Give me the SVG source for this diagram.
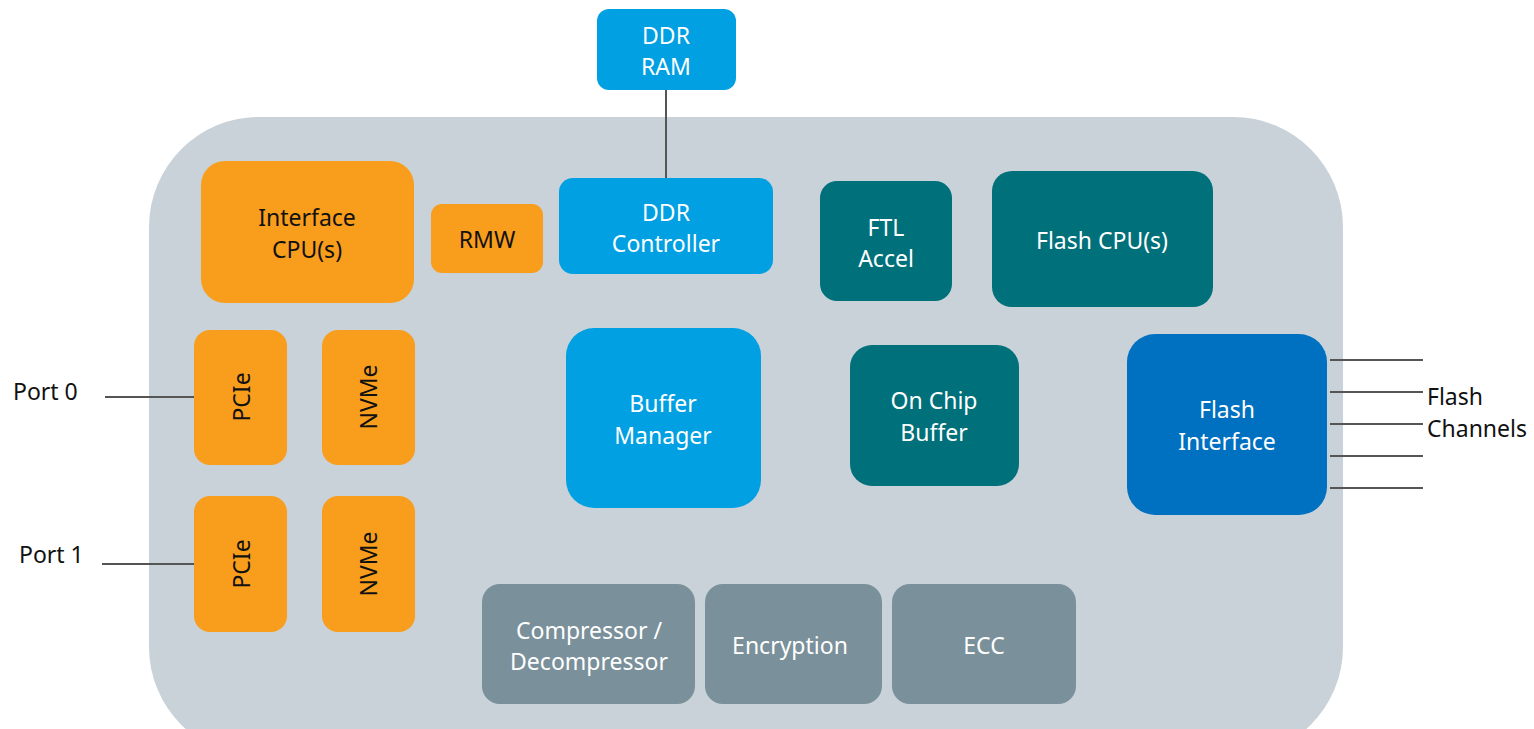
<svg xmlns="http://www.w3.org/2000/svg" width="1534" height="729" viewBox="0 0 1534 729">
  <style>
    text { font-family: "Noto Sans", "Open Sans", "DejaVu Sans", sans-serif; font-size: 23px; text-anchor: middle; dominant-baseline: central; }
    .dark { fill: #111111; }
    .light { fill: #ffffff; }
    .lbl { fill: #111111; text-anchor: start; }
    .orange { fill: #F99D1C; }
    .blue { fill: #00A0E3; }
    .navy { fill: #0070C0; }
    .teal { fill: #00707A; }
    .grey { fill: #7A909A; }
    .wire { stroke: #555555; stroke-width: 2; fill: none; }
  </style>

  <!-- controller die -->
  <rect id="chip" x="149" y="117" width="1194" height="640" rx="110" fill="#C8D2D8"/>

  <g id="connectors">
    <line class="wire" x1="666" y1="90" x2="666" y2="178"/>
    <line class="wire" x1="105" y1="397" x2="194" y2="397"/>
    <line class="wire" x1="102" y1="564" x2="194" y2="564"/>
    <line class="wire" x1="1330" y1="360" x2="1423" y2="360"/>
    <line class="wire" x1="1330" y1="392" x2="1423" y2="392"/>
    <line class="wire" x1="1330" y1="424" x2="1423" y2="424"/>
    <line class="wire" x1="1330" y1="456" x2="1423" y2="456"/>
    <line class="wire" x1="1330" y1="488" x2="1423" y2="488"/>
  </g>

  <g id="ddr-ram">
    <rect class="blue" x="597" y="9" width="139" height="81" rx="12"/>
    <text class="light" x="666" y="35">DDR</text>
    <text class="light" x="666" y="66">RAM</text>
  </g>

  <g id="interface-cpu">
    <rect class="orange" x="201" y="161" width="213" height="142" rx="24"/>
    <text class="dark" x="307" y="217">Interface</text>
    <text class="dark" x="307" y="249">CPU(s)</text>
  </g>

  <g id="rmw">
    <rect class="orange" x="431" y="204" width="112" height="69" rx="11"/>
    <text class="dark" x="487" y="239">RMW</text>
  </g>

  <g id="ddr-controller">
    <rect class="blue" x="559" y="178" width="214" height="96" rx="14"/>
    <text class="light" x="666" y="212">DDR</text>
    <text class="light" x="666" y="243">Controller</text>
  </g>

  <g id="ftl-accel">
    <rect class="teal" x="820" y="181" width="132" height="120" rx="17"/>
    <text class="light" x="886" y="227">FTL</text>
    <text class="light" x="886" y="258">Accel</text>
  </g>

  <g id="flash-cpu">
    <rect class="teal" x="992" y="171" width="221" height="136" rx="20"/>
    <text class="light" x="1102" y="240">Flash CPU(s)</text>
  </g>

  <g id="pcie-0">
    <rect class="orange" x="194" y="330" width="93" height="135" rx="16"/>
    <text class="dark" transform="translate(241 397) rotate(-90)">PCIe</text>
  </g>

  <g id="nvme-0">
    <rect class="orange" x="322" y="330" width="93" height="135" rx="16"/>
    <text class="dark" transform="translate(368 397) rotate(-90)">NVMe</text>
  </g>

  <g id="pcie-1">
    <rect class="orange" x="194" y="496" width="93" height="136" rx="16"/>
    <text class="dark" transform="translate(241 564) rotate(-90)">PCIe</text>
  </g>

  <g id="nvme-1">
    <rect class="orange" x="322" y="496" width="93" height="136" rx="16"/>
    <text class="dark" transform="translate(368 564) rotate(-90)">NVMe</text>
  </g>

  <g id="buffer-manager">
    <rect class="blue" x="566" y="328" width="195" height="180" rx="28"/>
    <text class="light" x="663" y="403">Buffer</text>
    <text class="light" x="663" y="435">Manager</text>
  </g>

  <g id="on-chip-buffer">
    <rect class="teal" x="850" y="345" width="169" height="141" rx="22"/>
    <text class="light" x="934" y="400">On Chip</text>
    <text class="light" x="934" y="432">Buffer</text>
  </g>

  <g id="flash-interface">
    <rect class="navy" x="1127" y="334" width="200" height="181" rx="28"/>
    <text class="light" x="1227" y="409">Flash</text>
    <text class="light" x="1227" y="441">Interface</text>
  </g>

  <g id="compressor">
    <rect class="grey" x="482" y="584" width="213" height="120" rx="18"/>
    <text class="light" x="589" y="630">Compressor /</text>
    <text class="light" x="589" y="661">Decompressor</text>
  </g>

  <g id="encryption">
    <rect class="grey" x="705" y="584" width="177" height="120" rx="18"/>
    <text class="light" x="790" y="645">Encryption</text>
  </g>

  <g id="ecc">
    <rect class="grey" x="892" y="584" width="184" height="120" rx="18"/>
    <text class="light" x="984" y="645">ECC</text>
  </g>

  <g id="labels">
    <text class="lbl" x="13" y="391">Port 0</text>
    <text class="lbl" x="19" y="554">Port 1</text>
    <text class="lbl" x="1427" y="396">Flash</text>
    <text class="lbl" x="1427" y="428">Channels</text>
  </g>
</svg>
